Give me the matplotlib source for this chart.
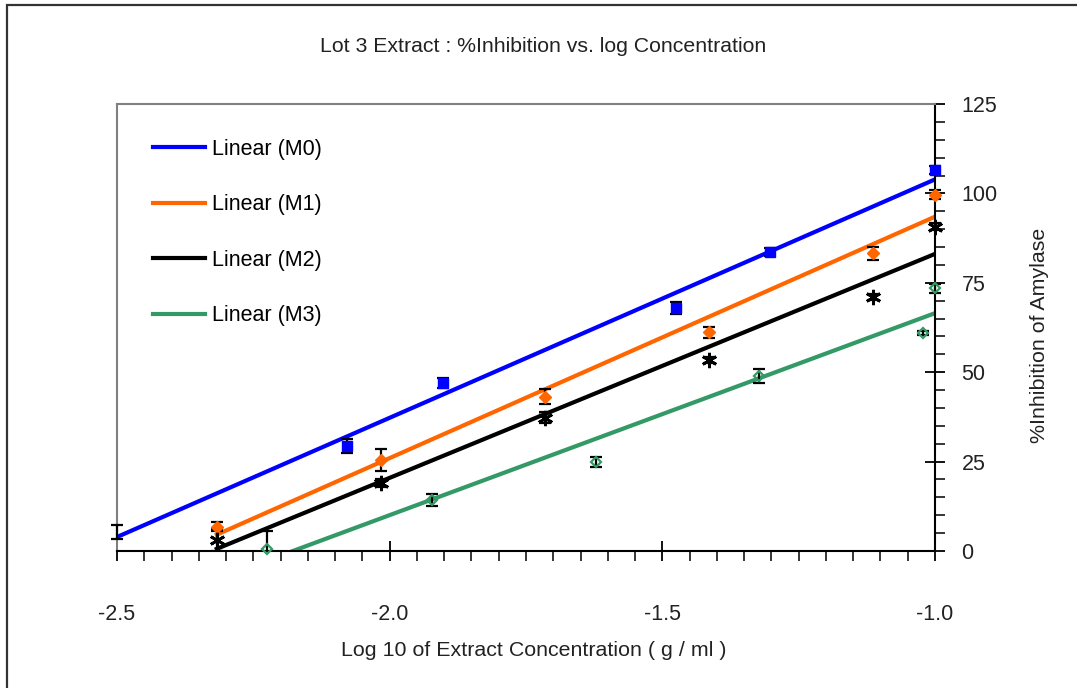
import numpy as np
import matplotlib
matplotlib.use("Agg")
import matplotlib.pyplot as plt
from matplotlib.patches import Rectangle
from matplotlib.ticker import MultipleLocator, FormatStrFormatter

plt.rcParams['font.family'] = ['Liberation Sans', 'DejaVu Sans']
plt.rcParams['axes.unicode_minus'] = False

# log10 concentration (g/ml), mean % inhibition and error for each lot-3 extract
m0_x = [-2.5, -2.078, -1.902, -1.475, -1.302, -1.0]
m0_y = [5.3, 29.4, 47.0, 67.9, 83.6, 106.5]
m0_err = [2.0, 2.0, 1.5, 1.7, 1.1, 1.1]

m1_x = [-2.317, -2.016, -1.715, -1.414, -1.113, -1.0]
m1_y = [6.8, 25.5, 43.2, 61.2, 83.3, 99.6]
m1_err = [1.3, 3.0, 2.1, 1.5, 1.8, 1.3]

m2_x = [-2.317, -2.016, -1.715, -1.414, -1.113, -1.0]
m2_y = [3.1, 19.0, 37.3, 53.4, 71.1, 90.7]
m2_err = [3.0, 1.0, 1.6, 0.8, 0.8, 1.0]

m3_x = [-2.225, -1.922, -1.622, -1.323, -1.022, -1.0]
m3_y = [0.6, 14.3, 24.9, 49.0, 60.9, 73.5]
m3_err = [5.0, 1.7, 1.5, 1.9, 0.6, 1.3]

labels = ["Linear (M0)", "Linear (M1)", "Linear (M2)", "Linear (M3)"]
colors = ["#0000ff", "#ff6600", "#000000", "#339966"]

fig = plt.figure(figsize=(10.77, 6.88), dpi=100)
ax = fig.add_axes([117 / 1077, 1 - 551 / 688, 818 / 1077, 447 / 688])

series = [(m0_x, m0_y, m0_err), (m1_x, m1_y, m1_err),
          (m2_x, m2_y, m2_err), (m3_x, m3_y, m3_err)]

# regression lines over each data range
for (x, y, e), lab, c in zip(series, labels, colors):
    slope, icpt = np.polyfit(x, y, 1)
    xs = np.array([min(x), max(x)])
    ax.plot(xs, slope * xs + icpt, color=c, lw=3, label=lab, zorder=2)

# error bars may poke out sideways but not below the x axis
above_axis = Rectangle((-0.2, 0), 1.4, 1.3, transform=ax.transAxes,
                       visible=False)
ax.add_patch(above_axis)
for x, y, e in series:
    eb = ax.errorbar(x, y, yerr=e, fmt='none', ecolor='black', elinewidth=1.6,
                     capsize=4.5, capthick=1.6, zorder=3)
    for art in eb.lines[1] + eb.lines[2]:
        art.set_clip_path(above_axis)

# markers (first M0 point has no visible marker)
ax.plot(m0_x[1:], m0_y[1:], ls='none', marker='s', ms=7, color=colors[0],
        zorder=4, clip_on=False)
ax.plot(m1_x, m1_y, ls='none', marker='D', ms=6, color=colors[1],
        zorder=4, clip_on=False)
ax.plot(m2_x, m2_y, ls='none', marker=(6, 2, 0), ms=11, mew=2,
        color='black', zorder=4, clip_on=False)
ax.plot(m3_x, m3_y, ls='none', marker='D', ms=5.5, mfc='none', mew=1.6,
        mec=colors[3], zorder=4, clip_on=False)

ax.set_xlim(-2.5, -1.0)
ax.set_ylim(0, 125)
ax.xaxis.set_major_locator(MultipleLocator(0.5))
ax.xaxis.set_minor_locator(MultipleLocator(0.05))
ax.xaxis.set_major_formatter(FormatStrFormatter('%.1f'))
ax.yaxis.set_major_locator(MultipleLocator(25))
ax.yaxis.set_minor_locator(MultipleLocator(5))
ax.yaxis.tick_right()
ax.yaxis.set_label_position('right')

for side in ['left', 'top']:
    ax.spines[side].set_color('#808080')
    ax.spines[side].set_linewidth(1.5)
for side in ['right', 'bottom']:
    ax.spines[side].set_color('black')
    ax.spines[side].set_linewidth(1.5)

ax.tick_params(which='major', direction='inout', length=14, width=1.3,
               labelsize=15.5, colors='black', labelcolor='#222222')
ax.tick_params(which='minor', direction='out', length=7, width=1.1)
ax.tick_params(axis='x', which='major', pad=31)
ax.tick_params(axis='y', which='major', pad=12)

ax.set_xlabel("Log 10 of Extract Concentration ( g / ml )", fontsize=15.4,
              color='#222222')
ax.xaxis.set_label_coords(0.509, -0.2015)
ax.set_ylabel("%Inhibition of Amylase", fontsize=15.4, color='#222222')
ax.yaxis.set_label_coords(1.116, 0.483)

fig.text(0.504, 1 - 47 / 688, "Lot 3 Extract : %Inhibition vs. log Concentration",
         ha='center', va='center', fontsize=15.3, color='#222222')

ax.legend(loc='upper left', bbox_to_anchor=(0.044, 0.922), frameon=False,
          fontsize=15.5, handlelength=2.4, handletextpad=0.33,
          labelspacing=1.6, borderpad=0, borderaxespad=0)

# outer frame of the chart area
fig.patches.append(Rectangle((7 / 1077, -0.1), 1.2, 1.1 - 5 / 688,
                             transform=fig.transFigure, fill=False,
                             edgecolor='#333333', lw=1.6))

fig.savefig("out.png", dpi=100)
